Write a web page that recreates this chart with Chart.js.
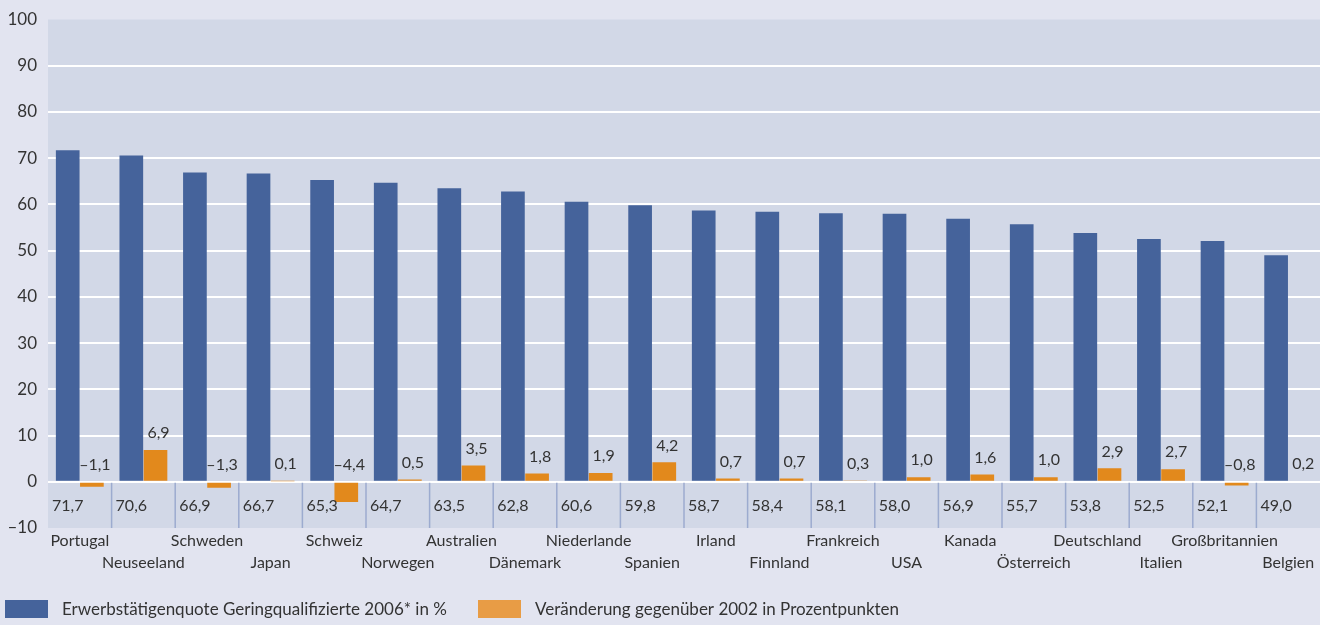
<!DOCTYPE html>
<html>
<head>
<meta charset="utf-8">
<script src="https://cdn.jsdelivr.net/npm/chart.js@4.4.1/dist/chart.umd.min.js"></script>
<style>
    html, body { margin: 0; padding: 0; background: #e2e4f0; }
    #wrap { width: 1320px; height: 625px; position: relative; }
</style>
</head>
<body>
<div id="wrap"><canvas id="myChart" width="1320" height="625"></canvas></div>
<script>
'use strict';

/*---------------------------------------------------------------*/
/*----------------------------- data ----------------------------*/
/*---------------------------------------------------------------*/
const categories = ['Portugal', 'Neuseeland', 'Schweden', 'Japan', 'Schweiz', 'Norwegen',
    'Australien', 'Dänemark', 'Niederlande', 'Spanien', 'Irland', 'Finnland', 'Frankreich',
    'USA', 'Kanada', 'Österreich', 'Deutschland', 'Italien', 'Großbritannien', 'Belgien'];
const quote2006 = [71.7, 70.6, 66.9, 66.7, 65.3, 64.7, 63.5, 62.8, 60.6, 59.8,
    58.7, 58.4, 58.1, 58.0, 56.9, 55.7, 53.8, 52.5, 52.1, 49.0];
const change2002 = [-1.1, 6.9, -1.3, 0.1, -4.4, 0.5, 3.5, 1.8, 1.9, 4.2,
    0.7, 0.7, 0.3, 1.0, 1.6, 1.0, 2.9, 2.7, -0.8, 0.2];
const yTicks = [-10, 0, 10, 20, 30, 40, 50, 60, 70, 80, 90, 100];

const seriesNames = ['Erwerbstätigenquote Geringqualifizierte 2006* in %',
    'Veränderung gegenüber 2002 in Prozentpunkten'];
const legendColors = ['#45639b', '#e89c45'];

const FONT = 'Lato';
const TEXT = '#333333';

// 71,7 / –1,1
function fmt(v) {
    var s = Math.abs(v).toFixed(1).replace('.', ',');
    return v < 0 ? '\u2013' + s : s;
}

/*---------------------------------------------------------------*/
/*---------------------------- plugins --------------------------*/
/*---------------------------------------------------------------*/
const plotBg = {
    id: 'plotBg',
    beforeDraw(chart) {
        var a = chart.chartArea, ctx = chart.ctx;
        ctx.save();
        ctx.fillStyle = '#d2d8e7';
        ctx.fillRect(a.left, a.top, a.right - a.left, a.bottom - a.top);
        ctx.restore();
    }
};

const valueLabels = {
    id: 'valueLabels',
    afterDatasetsDraw(chart) {
        var ctx = chart.ctx, x = chart.scales.x, y = chart.scales.y;
        var a = chart.chartArea;
        var y0 = y.getPixelForValue(0);
        ctx.save();

        // separators in the value row
        ctx.strokeStyle = '#9cabcf';
        ctx.lineWidth = 1.5;
        for (var i = 1; i < categories.length; i++) {
            var xs = (x.getPixelForValue(i - 1) + x.getPixelForValue(i)) / 2;
            ctx.beginPath();
            ctx.moveTo(xs, y0 + 1);
            ctx.lineTo(xs, a.bottom);
            ctx.stroke();
        }

        ctx.font = '16px ' + FONT;
        ctx.fillStyle = TEXT;
        ctx.textAlign = 'center';
        ctx.textBaseline = 'middle';

        var blue = chart.getDatasetMeta(0).data;
        var orange = chart.getDatasetMeta(1).data;
        var yRow = (y0 + a.bottom) / 2;
        blue.forEach((bar, i) => {
            ctx.fillText(fmt(quote2006[i]), bar.x, yRow + 1);
        });
        orange.forEach((bar, i) => {
            var top = Math.min(bar.y, y0);
            ctx.fillText(fmt(change2002[i]), bar.x + 3, top - 17);
        });
        ctx.restore();
    }
};

// legend row under the category labels
const bottomLegend = {
    id: 'bottomLegend',
    afterDraw(chart) {
        var ctx = chart.ctx;
        var yMid = chart.height - 16;
        var boxX = [5, 478];
        ctx.save();
        ctx.font = '17px ' + FONT;
        ctx.fillStyle = TEXT;
        ctx.textBaseline = 'middle';
        seriesNames.forEach((name, i) => {
            ctx.fillStyle = legendColors[i];
            ctx.fillRect(boxX[i], yMid - 9, 43, 18);
            ctx.fillStyle = TEXT;
            ctx.fillText(name, boxX[i] + 57, yMid + 1);
        });
        ctx.restore();
    }
};

/*---------------------------------------------------------------*/
/*----------------------------- chart ---------------------------*/
/*---------------------------------------------------------------*/
const data = {
    labels: categories,
    datasets: [
        {
            label: seriesNames[0],
            data: quote2006,
            backgroundColor: '#45639b',
            categoryPercentage: 0.76,
            barPercentage: 0.98
        },
        {
            label: seriesNames[1],
            data: change2002,
            backgroundColor: '#e2891c',
            categoryPercentage: 0.76,
            barPercentage: 0.98
        }
    ]
};

const config = {
    type: 'bar',
    data: data,
    plugins: [plotBg, valueLabels, bottomLegend],
    options: {
        responsive: false,
        animation: false,
        layout: { padding: { top: 19, right: 0, left: 0, bottom: 37 } },
        plugins: {
            tooltip: { enabled: false },
            legend: { display: false }
        },
        scales: {
            x: {
                grid: { display: false },
                border: { display: false },
                afterFit(s) { s.height = 60; },
                ticks: {
                    padding: -6,
                    color: TEXT,
                    autoSkip: false,
                    maxRotation: 0,
                    font: { family: FONT, size: 16, lineHeight: 1.35 },
                    callback: function (v, i) {
                        return i % 2 === 0 ? [categories[i]] : ['', categories[i]];
                    }
                }
            },
            y: {
                min: -10,
                max: 100,
                afterFit(s) { s.width = 48; },
                afterBuildTicks(s) { s.ticks = yTicks.map(v => ({ value: v })); },
                border: { display: false },
                grid: {
                    drawTicks: false,
                    lineWidth: 2,
                    color: ctx => (ctx.tick && ctx.tick.value > -10 && ctx.tick.value < 100) ? '#ffffff' : 'rgba(0,0,0,0)'
                },
                ticks: {
                    padding: 11,
                    color: TEXT,
                    font: { family: FONT, size: 17, lineHeight: 1 },
                    callback: v => v < 0 ? '\u2013' + Math.abs(v) : String(v)
                }
            }
        }
    }
};
new Chart(document.getElementById('myChart'), config);
</script>
</body>
</html>
